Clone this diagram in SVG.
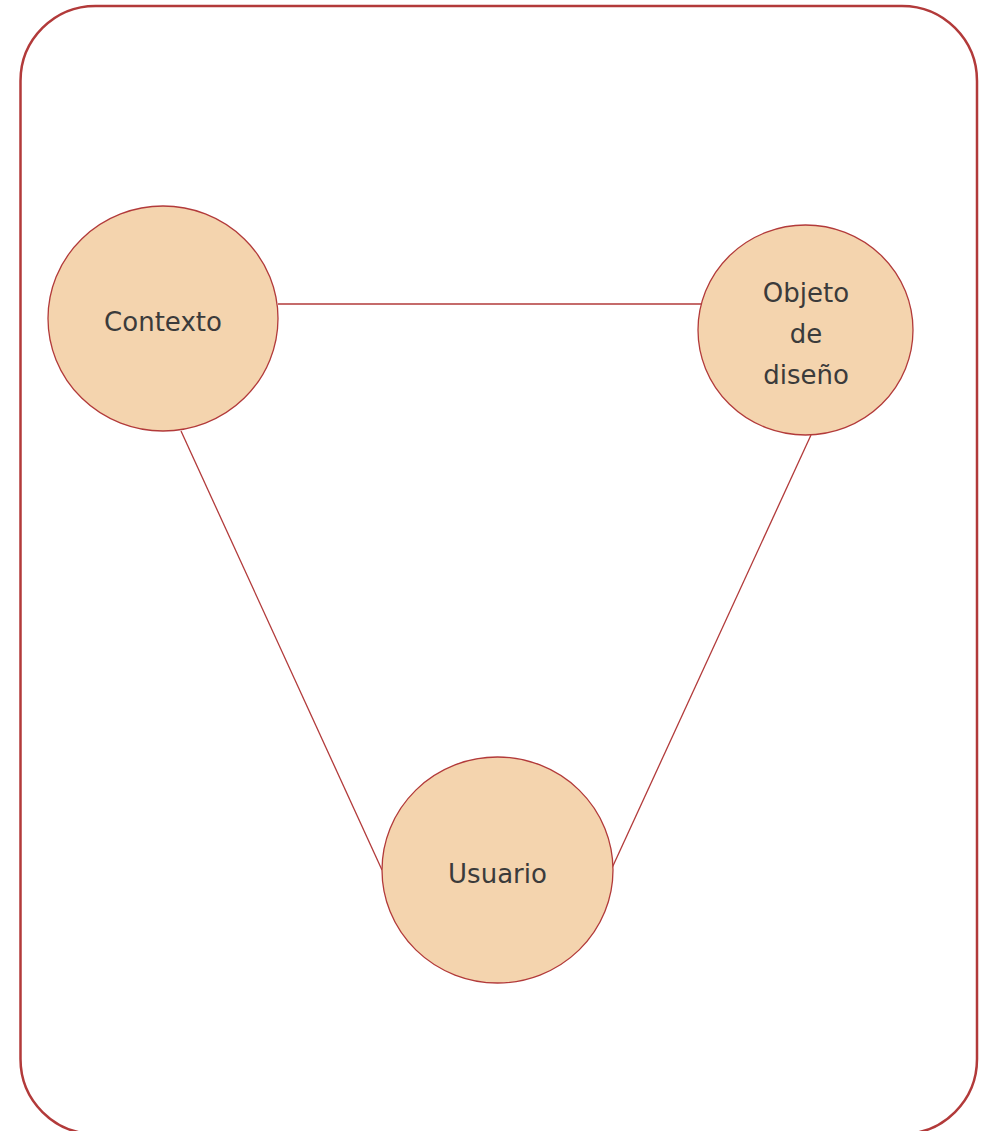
<svg xmlns="http://www.w3.org/2000/svg" width="985" height="1131" viewBox="0 0 985 1131">
<style>
.node{fill:#f4d4ae;stroke:#b23a3a;stroke-width:1.3}
.lbl{font-family:"DejaVu Sans",sans-serif;font-size:26px;fill:#3b3b3b;text-anchor:middle}
.conn{stroke:#b23a3a;stroke-width:1.3;fill:none}
</style>
<rect x="20.5" y="6" width="956.5" height="1128" rx="75" ry="75" fill="#ffffff" stroke="#b23a3a" stroke-width="2.5"/>
<g id="connectors">
<line class="conn" x1="278" y1="304" x2="703" y2="304"/>
<line class="conn" x1="181" y1="431" x2="382" y2="870"/>
<line class="conn" x1="811" y1="435" x2="612" y2="868"/>
</g>
<g id="contexto">
<ellipse class="node" cx="163" cy="318.5" rx="115" ry="112.5"/>
<text class="lbl" x="163" y="331">Contexto</text>
</g>
<g id="objeto">
<ellipse class="node" cx="805.5" cy="330" rx="107.5" ry="105"/>
<text class="lbl" x="806" y="302">Objeto</text>
<text class="lbl" x="806" y="343">de</text>
<text class="lbl" x="806" y="384">diseño</text>
</g>
<g id="usuario">
<ellipse class="node" cx="497.5" cy="870" rx="115.5" ry="113"/>
<text class="lbl" x="497.5" y="883">Usuario</text>
</g>
</svg>
